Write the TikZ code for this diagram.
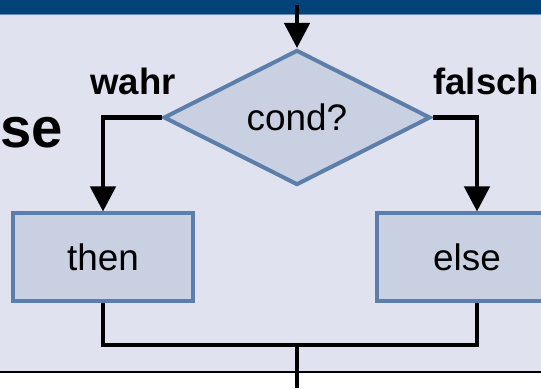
\documentclass[tikz,border=0pt]{standalone}
\usepackage{fontspec}
\setmainfont{Liberation Sans}
\usepackage{tikz}
\usetikzlibrary{arrows.meta,positioning,shapes.geometric}
\definecolor{fband}{HTML}{04427A}
\definecolor{fbandline}{HTML}{6B8CB8}
\definecolor{fback}{HTML}{E0E3EF}
\definecolor{ffill}{HTML}{C9D0E2}
\definecolor{fedge}{HTML}{5D7EAB}
\tikzset{
  >={Triangle[width=5mm,length=5mm]},
  fflow/.style={draw=black, line width=0.9mm},
  fstep/.style={rectangle, draw=fedge, fill=ffill, line width=0.8mm,
                minimum width=3.6cm, minimum height=1.74cm,
                font=\fontsize{21}{24}\selectfont},
  fcond/.style={diamond, aspect=2, draw=fedge, fill=ffill, line width=0.8mm,
                minimum width=5.34cm, minimum height=2.7cm, inner sep=0pt,
                font=\fontsize{21}{24}\selectfont},
  flbl/.style={font=\fontsize{20.8}{24}\selectfont\bfseries, inner sep=0pt,
               anchor=base west},
}

\begin{document}
\begin{tikzpicture}[x=1cm,y=1cm]
  \useasboundingbox (0,0) rectangle (10.82,7.76);

  % --- Hintergrund, Kopfbalken, Trennlinie ---
  \fill[fback] (0,0.32) rectangle (10.82,7.47);
  \fill[fband] (0,7.48) rectangle (10.82,7.76);
  \draw[fbandline, line width=0.2mm] (0,7.47) -- (10.82,7.47);
  \draw[black, line width=0.4mm] (0,0.32) -- (10.82,0.32);

  % Titelrest
  \node[font=\fontsize{32}{36}\selectfont\bfseries, inner sep=0pt, anchor=base west]
    (title) at (0,4.8) {se};

  % --- Verzweigung ---
  \coordinate (start) at (5.94,7.66);
  \node[fcond] (cond) at (5.94,5.41) {cond?};
  \node[fstep] (thenbox) at (2.06,2.62) {then};
  \node[fstep] (elsebox) at (9.34,2.62) {else};
  \node[flbl] (wahr) at (1.8,5.86) {wahr};
  \node[flbl] (falsch) at (8.66,5.86) {falsch};
  \coordinate (join) at (5.94,0.86);
  \coordinate (out) at (5.94,0);

  \draw[fflow,->] (start) -- (cond.north);
  \draw[fflow,->] (cond.west) -| (thenbox.north);
  \draw[fflow,->] (cond.east) -| ([xshift=2mm]elsebox.north);
  \draw[fflow] (thenbox.south) |- (join) -| ([xshift=2mm]elsebox.south);
  \draw[fflow] (join) -- (out);

\end{tikzpicture}
\end{document}
